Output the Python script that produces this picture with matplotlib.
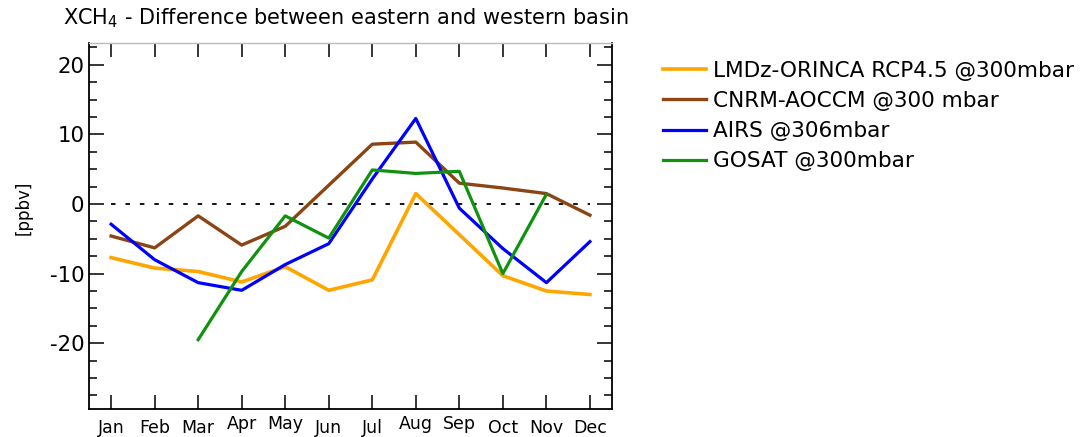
import matplotlib
matplotlib.use("Agg")
import numpy as np
import matplotlib.pyplot as plt
from matplotlib.ticker import MultipleLocator
from matplotlib.transforms import ScaledTranslation

plt.rcParams["font.family"] = ["DejaVu Sans"]
plt.rcParams["axes.unicode_minus"] = False

months = np.arange(1, 13)
month_labels = ["Jan", "Feb", "Mar", "Apr", "May", "Jun",
                "Jul", "Aug", "Sep", "Oct", "Nov", "Dec"]

lmdz = [-7.7, -9.2, -9.7, -11.2, -9.0, -12.4, -10.9, 1.5, -4.4, -10.3, -12.5, -13.0]
cnrm = [-4.6, -6.3, -1.7, -5.9, -3.2, 2.7, 8.6, 8.9, 3.0, 2.3, 1.5, -1.6]
airs = [-2.9, -8.0, -11.3, -12.4, -8.7, -5.7, 3.6, 12.3, -0.6, -6.4, -11.3, -5.4]
gosat = [np.nan, np.nan, -19.5, -9.7, -1.7, -4.9, 4.9, 4.4, 4.7, -10.0, 1.4, np.nan]

series = [
    ("LMDz-ORINCA RCP4.5 @300mbar", lmdz, "#ffa500", 2.6),
    ("CNRM-AOCCM @300 mbar", cnrm, "#8b4513", 2.4),
    ("AIRS @306mbar", airs, "#0000ff", 2.3),
    ("GOSAT @300mbar", gosat, "#0f930f", 2.3),
]

fig = plt.figure(figsize=(10.83, 4.37), dpi=100)
ax = fig.add_axes([0.0825, 0.0634, 0.4823, 0.8375])

ax.plot(months, np.zeros(12), color="black", lw=1.3, linestyle=(0, (2.5, 5.5)))
for name, vals, col, lw in series:
    ax.plot(months, vals, color=col, lw=lw, label=name)

ax.set_xlim(0.5, 12.5)
ax.set_ylim(-29.5, 23.1)

ax.set_xticks(months, labels=month_labels, fontsize=12.5)
ax.yaxis.set_major_locator(MultipleLocator(10))
ax.yaxis.set_minor_locator(MultipleLocator(2.5))
ax.tick_params(axis="x", direction="in", length=10, width=1.1, top=True, pad=7)
ax.tick_params(axis="y", which="major", direction="in", length=11, width=1.1,
               right=True, labelsize=15.3, pad=3.5)
ax.tick_params(axis="y", which="minor", direction="in", length=6, width=1.1, right=True)

# labels with descenders sit a bit higher, like the original
for lab in ax.get_xticklabels():
    if lab.get_text() in ("Apr", "May", "Aug", "Sep"):
        lab.set_transform(lab.get_transform() + ScaledTranslation(0, 0.045, fig.dpi_scale_trans))

for side in ("left", "bottom", "right"):
    ax.spines[side].set_linewidth(1.3)
ax.spines["top"].set_color("#bbbbbb")
ax.spines["top"].set_linewidth(1.0)

ax.set_ylabel("[ppbv]", fontsize=12)
ax.yaxis.set_label_coords(-0.108, 0.55)

fig.text(63 / 1083, 1 - 6 / 437, "XCH$_4$ - Difference between eastern and western basin",
         fontsize=15, ha="left", va="top")

fig.legend(loc="upper left", bbox_to_anchor=(0.612, 0.861), frameon=False, fontsize=15.6,
           handlelength=2.0, handletextpad=0.33, labelspacing=0.47, borderpad=0,
           borderaxespad=0)

fig.savefig("out.png", dpi=100)
